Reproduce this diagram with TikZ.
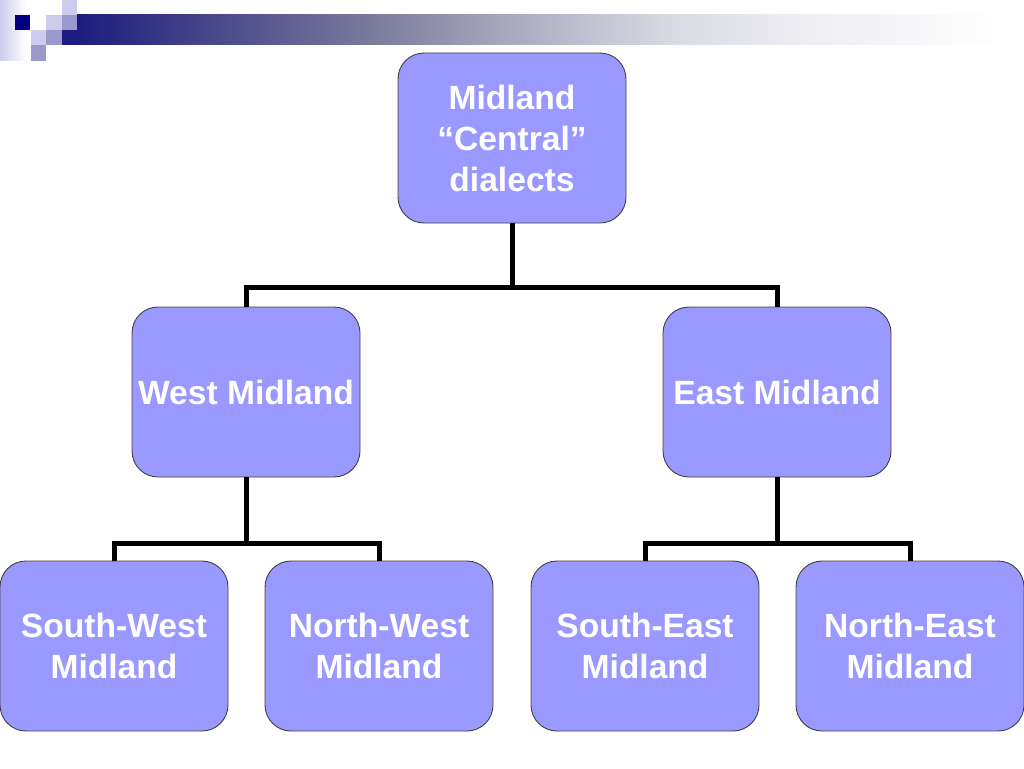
\documentclass[tikz,border=0pt]{standalone}
\usepackage{fontspec}
\setmainfont{Liberation Sans}
\definecolor{barA}{HTML}{1C1C80}
\definecolor{barB}{HTML}{4A4A8A}
\definecolor{barC}{HTML}{7A7A9C}
\definecolor{barD}{HTML}{AAAABF}
\definecolor{barE}{HTML}{D8D8E2}
\definecolor{barF}{HTML}{EEEEF3}
\definecolor{boxfill}{HTML}{9999FF}
\definecolor{boxline}{HTML}{404040}
\definecolor{sqnavy}{HTML}{00007F}
\definecolor{sqlight}{HTML}{CCCCEE}
\definecolor{sqmed}{HTML}{9999CC}
\pgfdeclarehorizontalshading{barshade}{100bp}{
  color(0bp)=(barA); color(25bp)=(barA); color(32.5bp)=(barB); color(40.5bp)=(barC);
  color(48bp)=(barD); color(56bp)=(barE); color(63.5bp)=(barF); color(74bp)=(white);
  color(100bp)=(white)}
\begin{document}
\begin{tikzpicture}[x=1pt,y=-1pt,
  dbox/.style={draw=boxline, line width=0.9pt, fill=boxfill, rounded corners=26pt,
    minimum width=228pt, minimum height=170pt, inner sep=0pt, align=center,
    text=white, font=\fontsize{33.6}{41}\selectfont\bfseries},
  link/.style={line width=5pt, black}]
\useasboundingbox (0,0) rectangle (1024,768);
% decoration
\shade[left color=sqlight, right color=white] (0,0) rectangle (26,60);
\fill[sqlight] (62,0) rectangle (77,15);
\fill[sqnavy] (15,15) rectangle (30,30);
\fill[sqlight] (46,15) rectangle (62,30);
\fill[sqmed] (62,15) rectangle (77,30);
\fill[sqlight] (31,30) rectangle (46,45);
\fill[sqmed] (46,30) rectangle (62,45);
\fill[sqmed] (31,45) rectangle (46,61);
\shade[shading=barshade] (77,15) rectangle (1024,45);
\fill[barA] (62,30) rectangle (78,45);
% boxes
\node[dbox] (top) at (512,138) {Midland\\“Central”\\dialects};
\node[dbox] (west) at (246,392) {West Midland};
\node[dbox] (east) at (777,392) {East Midland};
\node[dbox] (sw) at (114,646) {South-West\\Midland};
\node[dbox] (nw) at (379,646) {North-West\\Midland};
\node[dbox] (se) at (645,646) {South-East\\Midland};
\node[dbox] (ne) at (910,646) {North-East\\Midland};
% connectors
\draw[link] (top.south) -- (512,287) coordinate (j1);
\draw[link] (west.north) |- (j1) -| (east.north);
\draw[link] (west.south) -- (246,543) coordinate (j2);
\draw[link] (sw.north) |- (j2) -| (nw.north);
\draw[link] (east.south) -- (777,543) coordinate (j3);
\draw[link] (se.north) |- (j3) -| (ne.north);
\end{tikzpicture}
\end{document}
